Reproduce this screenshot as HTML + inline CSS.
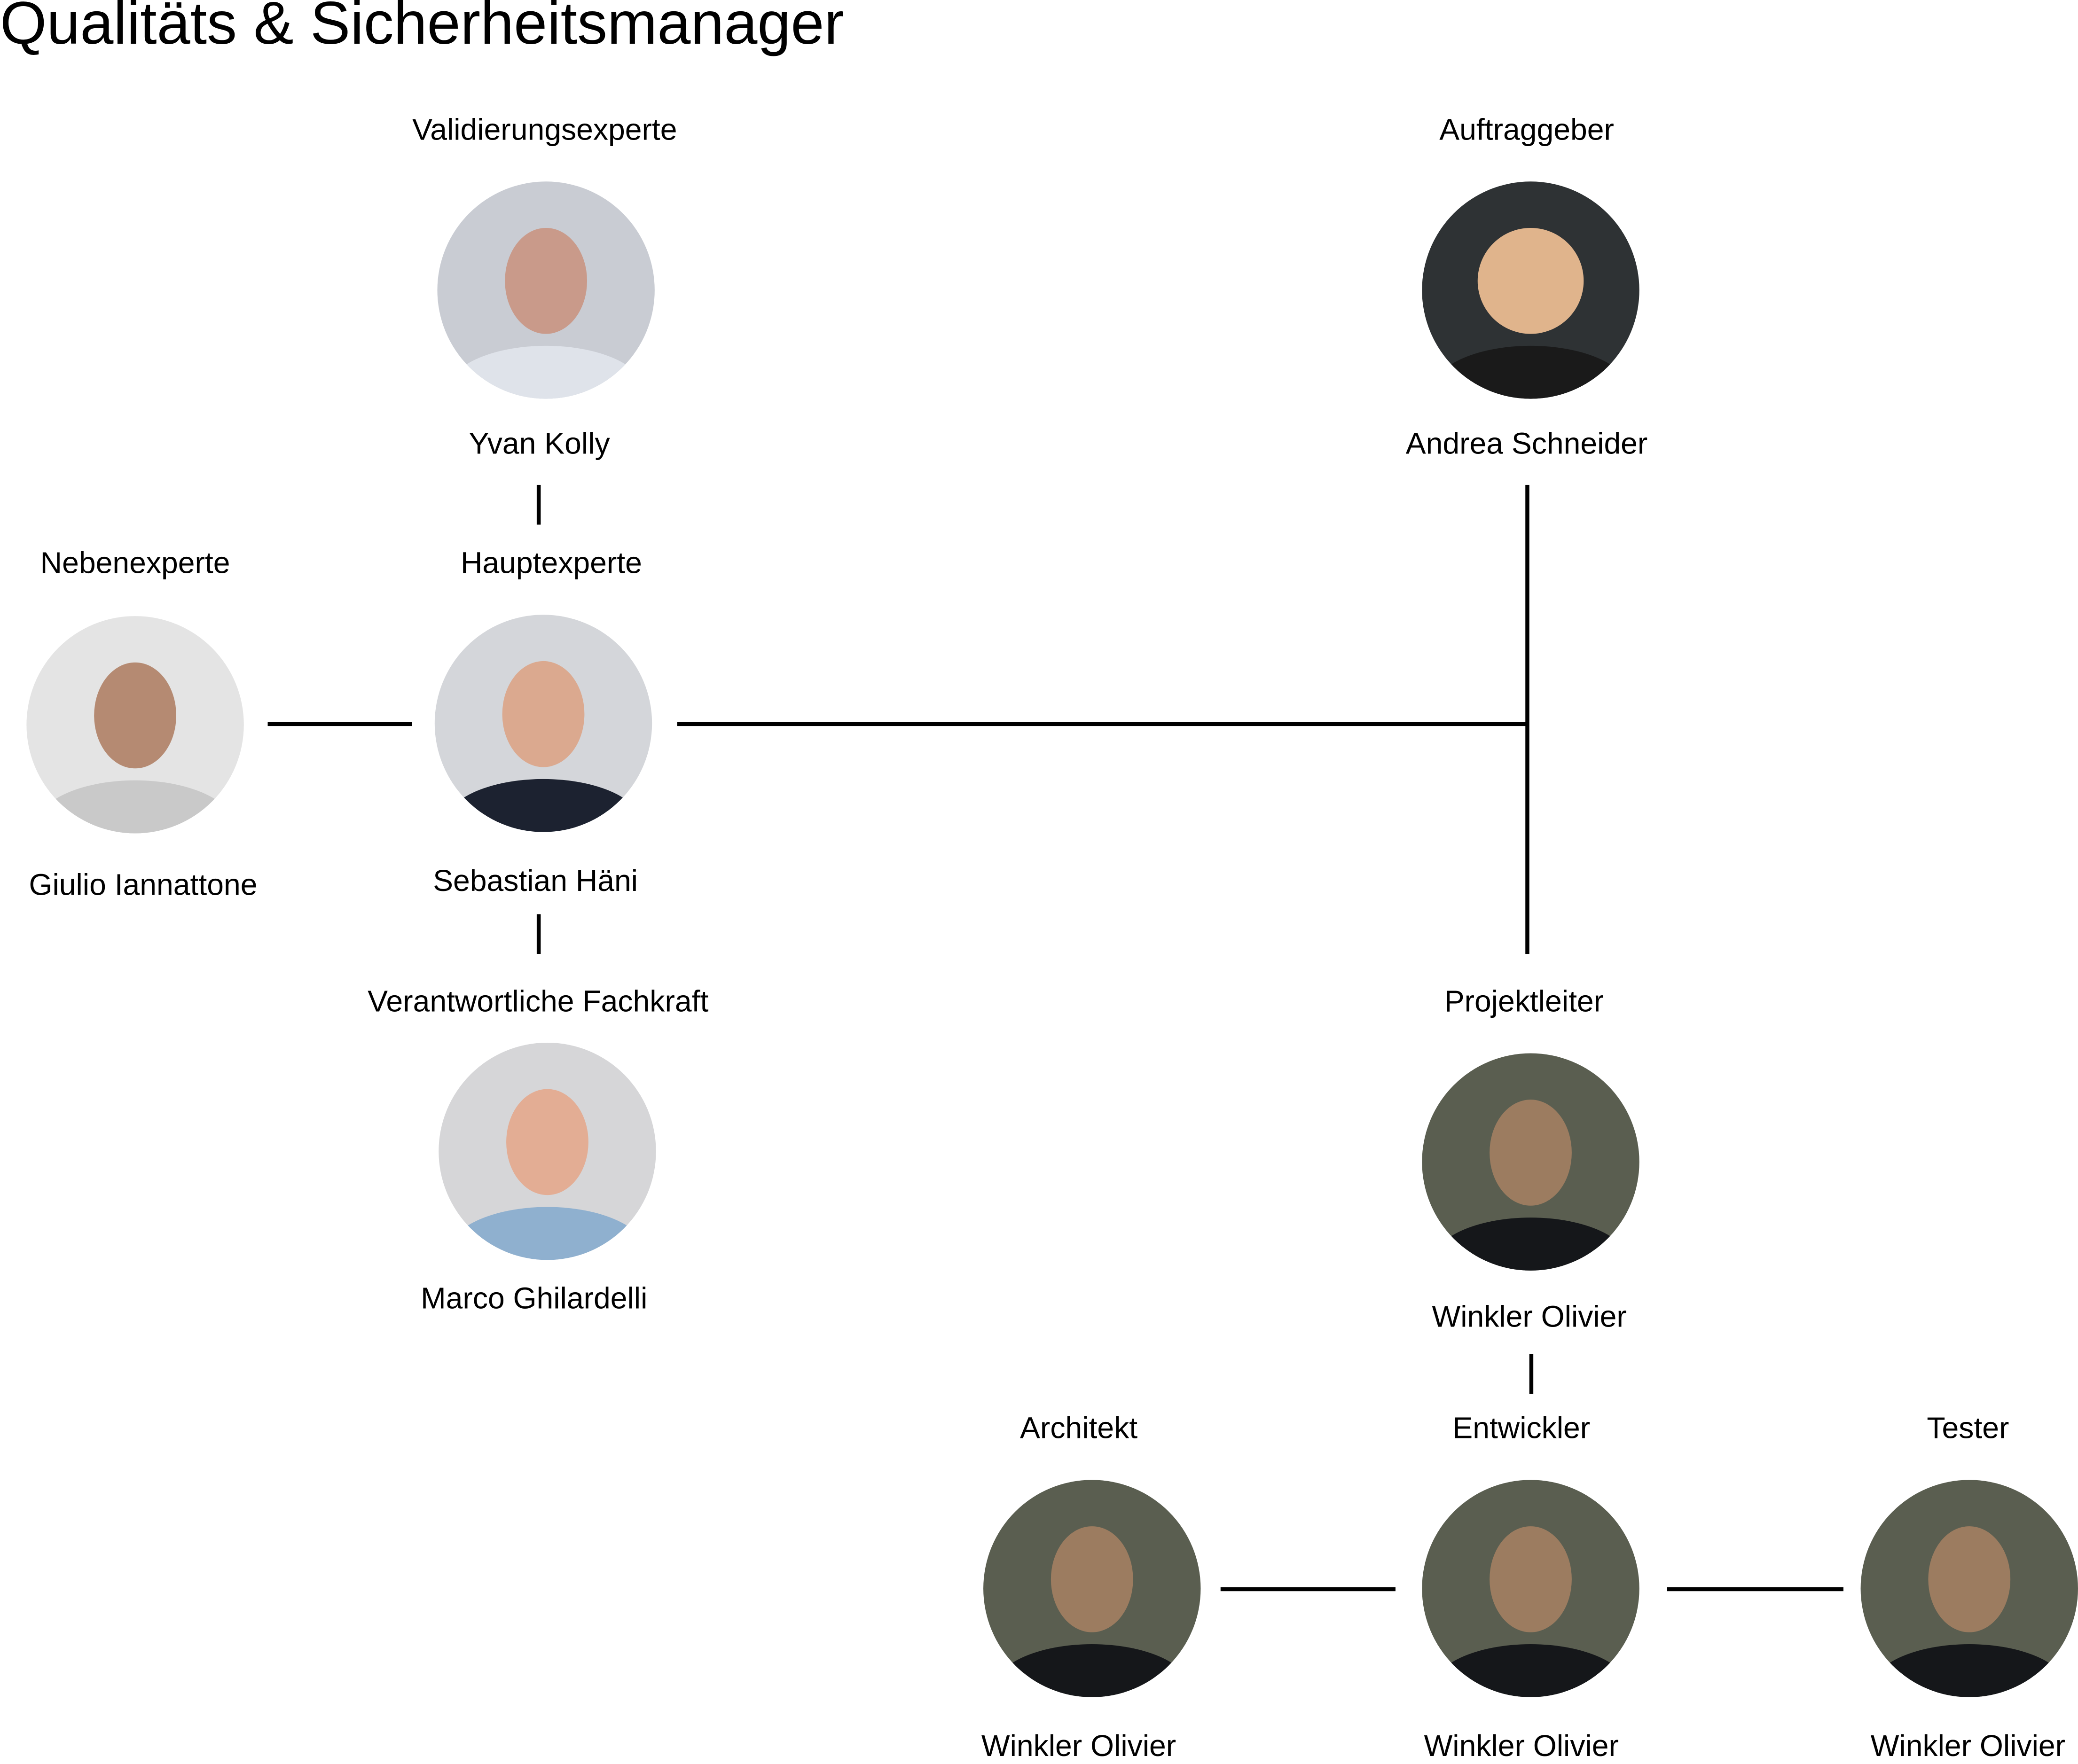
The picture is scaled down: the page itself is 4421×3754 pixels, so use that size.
<!DOCTYPE html>
<html><head><meta charset="utf-8"><style>
html,body{margin:0;padding:0;background:#fff;width:4421px;height:3752px;overflow:hidden}
#w{position:absolute;left:0;top:0;width:1568px;height:1331px;transform:scale(2.8195);transform-origin:0 0;font-family:"Liberation Sans",sans-serif;color:#000}
.t{position:absolute;font-size:22.8px;white-space:nowrap;transform:translate(-50%,-50%);margin-top:2px}
.c{position:absolute;width:164px;height:164px;border-radius:50%;transform:translate(-50%,-50%);overflow:hidden}
.face{position:absolute;left:50%;top:46%;width:62px;height:80px;border-radius:50%;transform:translate(-50%,-50%)}
.body{position:absolute;left:50%;bottom:-30px;width:150px;height:70px;border-radius:50%;transform:translateX(-50%)}
.l{position:absolute;background:#000}
</style></head><body><div id="w">
<div style="position:absolute;left:0;top:-8px;font-size:45.3px;white-space:nowrap">Qualitäts &amp; Sicherheitsmanager</div>

<div class="t" style="left:411px;top:96px">Validierungsexperte</div>
<div class="c" style="left:412px;top:219px;background:#c9ccd3"><div class="body" style="background:#dfe3ea"></div><div class="face" style="background:#c99a8a"></div></div>
<div class="t" style="left:407px;top:333px">Yvan Kolly</div>

<div class="t" style="left:1152px;top:96px">Auftraggeber</div>
<div class="c" style="left:1155px;top:219px;background:#2e3234"><div class="body" style="background:#1a1a1a"></div><div class="face" style="background:#e0b48c;width:80px"></div></div>
<div class="t" style="left:1152px;top:333px">Andrea Schneider</div>

<div class="t" style="left:102px;top:423px">Nebenexperte</div>
<div class="c" style="left:102px;top:547px;background:#e4e4e4"><div class="body" style="background:#c9c9c9"></div><div class="face" style="background:#b58a72"></div></div>
<div class="t" style="left:108px;top:666px">Giulio Iannattone</div>

<div class="t" style="left:416px;top:423px">Hauptexperte</div>
<div class="c" style="left:410px;top:546px;background:#d4d6da"><div class="body" style="background:#1c2230"></div><div class="face" style="background:#dba98f"></div></div>
<div class="t" style="left:404px;top:663px">Sebastian Häni</div>

<div class="t" style="left:406px;top:754px">Verantwortliche Fachkraft</div>
<div class="c" style="left:413px;top:869px;background:#d6d6d8"><div class="body" style="background:#8fb0cf"></div><div class="face" style="background:#e3ad94"></div></div>
<div class="t" style="left:403px;top:978px">Marco Ghilardelli</div>

<div class="t" style="left:1150px;top:754px">Projektleiter</div>
<div class="c" style="left:1155px;top:877px;background:#5a5e50"><div class="body" style="background:#15171a"></div><div class="face" style="background:#9c7c60"></div></div>
<div class="t" style="left:1154px;top:992px">Winkler Olivier</div>

<div class="t" style="left:814px;top:1076px">Architekt</div>
<div class="c" style="left:824px;top:1199px;background:#5a5e50"><div class="body" style="background:#15171a"></div><div class="face" style="background:#9c7c60"></div></div>
<div class="t" style="left:814px;top:1316px">Winkler Olivier</div>

<div class="t" style="left:1148px;top:1076px">Entwickler</div>
<div class="c" style="left:1155px;top:1199px;background:#5a5e50"><div class="body" style="background:#15171a"></div><div class="face" style="background:#9c7c60"></div></div>
<div class="t" style="left:1148px;top:1316px">Winkler Olivier</div>

<div class="t" style="left:1485px;top:1076px">Tester</div>
<div class="c" style="left:1486px;top:1199px;background:#5a5e50"><div class="body" style="background:#15171a"></div><div class="face" style="background:#9c7c60"></div></div>
<div class="t" style="left:1485px;top:1316px">Winkler Olivier</div>

<div class="l" style="left:405px;top:366px;width:3px;height:30px"></div>
<div class="l" style="left:405px;top:690px;width:3px;height:30px"></div>
<div class="l" style="left:202px;top:545px;width:109px;height:3px"></div>
<div class="l" style="left:511px;top:545px;width:642px;height:3px"></div>
<div class="l" style="left:1151px;top:366px;width:3px;height:354px"></div>
<div class="l" style="left:1154px;top:1022px;width:3px;height:30px"></div>
<div class="l" style="left:921px;top:1198px;width:132px;height:3px"></div>
<div class="l" style="left:1258px;top:1198px;width:133px;height:3px"></div>
</div></body></html>
